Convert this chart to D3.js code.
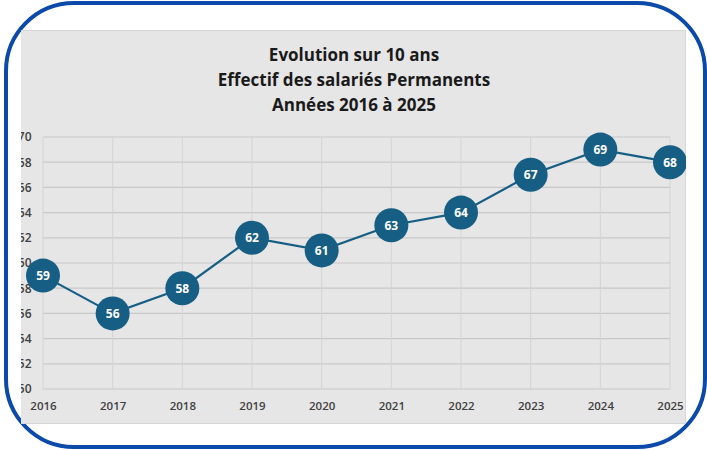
<!DOCTYPE html>
<html>
<head>
<meta charset="utf-8">
<script src="https://cdn.jsdelivr.net/npm/d3@7"></script>
<style>
  body { margin: 0; background: #fff; }
  svg { display: block; font-family: "Open Sans", Roboto, sans-serif; }
</style>
</head>
<body>
<div id="chart"></div>
<script>
var years = [2016, 2017, 2018, 2019, 2020, 2021, 2022, 2023, 2024, 2025];
var effectifs = [59, 56, 58, 62, 61, 63, 64, 67, 69, 68];
var yTicks = [50, 52, 54, 56, 58, 60, 62, 64, 66, 68, 70];
var titleLines = ["Evolution sur 10 ans", "Effectif des salariés Permanents", "Années 2016 à 2025"];

var W = 707, H = 450;
var panel = {x: 20, y: 30, w: 666, h: 394};
var plot = {left: 43, right: 670, top: 137, bottom: 389};
var bleu = "#175e84";

var svg = d3.select("#chart").append("svg")
    .attr("width", W)
    .attr("height", H);

// cadre bleu arrondi
svg.append("rect")
    .attr("x", 6).attr("y", 3)
    .attr("width", 699).attr("height", 444)
    .attr("rx", 68).attr("ry", 68)
    .attr("fill", "#fff")
    .attr("stroke", "#0b4aa9")
    .attr("stroke-width", 4);

svg.append("clipPath").attr("id", "clipPanel")
  .append("rect")
    .attr("x", panel.x + 1).attr("y", panel.y)
    .attr("width", panel.w - 1).attr("height", panel.h);

var g = svg.append("g").attr("clip-path", "url(#clipPanel)");

g.append("rect")
    .attr("x", panel.x + 0.5).attr("y", panel.y + 0.5)
    .attr("width", panel.w - 1).attr("height", panel.h - 1)
    .attr("fill", "#e6e6e6")
    .attr("stroke", "#d6d6d6");

var x = d3.scalePoint().domain(years).range([plot.left, plot.right]);
var y = d3.scaleLinear().domain([50, 70]).range([plot.bottom, plot.top]);

// grille
g.selectAll("line.h").data(yTicks).enter().append("line")
    .attr("class", "h")
    .attr("x1", plot.left).attr("x2", plot.right)
    .attr("y1", function(d) { return y(d); })
    .attr("y2", function(d) { return y(d); })
    .attr("stroke", "#c8c8c8").attr("stroke-width", 1.2);

g.selectAll("line.v").data(years).enter().append("line")
    .attr("class", "v")
    .attr("y1", plot.top).attr("y2", plot.bottom)
    .attr("x1", function(d) { return x(d); })
    .attr("x2", function(d) { return x(d); })
    .attr("stroke", "#d4d4d4").attr("stroke-width", 1);

// axes
var yAxis = g.append("g")
    .attr("transform", "translate(" + (plot.left - 11.5) + ",0)")
    .call(d3.axisLeft(y).tickValues(yTicks).tickSize(0).tickPadding(0));
yAxis.select(".domain").remove();
yAxis.selectAll("text")
    .attr("fill", "#404040")
    .attr("font-size", "12px")
    .attr("font-weight", "600")
    .attr("font-family", "'Open Sans', sans-serif");

var xAxis = g.append("g")
    .attr("transform", "translate(0," + (plot.bottom + 13) + ")")
    .call(d3.axisBottom(x).tickSize(0).tickPadding(0));
xAxis.select(".domain").remove();
xAxis.selectAll("text")
    .attr("fill", "#404040")
    .attr("font-size", "11.5px")
    .attr("font-weight", "600")
    .attr("font-family", "'Open Sans', sans-serif");

// titre
g.selectAll("text.titre").data(titleLines).enter().append("text")
    .attr("class", "titre")
    .attr("x", 354)
    .attr("y", function(d, i) { return 61 + i * 25; })
    .attr("text-anchor", "middle")
    .attr("font-size", "17px")
    .attr("font-weight", "bold")
    .attr("fill", "#1a1a1a")
    .text(function(d) { return d; });

// ligne
var data = years.map(function(d, i) { return {annee: d, val: effectifs[i]}; });
var line = d3.line()
    .x(function(d) { return x(d.annee); })
    .y(function(d) { return y(d.val); });

g.append("path")
    .datum(data)
    .attr("d", line)
    .attr("fill", "none")
    .attr("stroke", bleu)
    .attr("stroke-width", 2.2);

var pts = g.selectAll("g.pt").data(data).enter().append("g")
    .attr("class", "pt")
    .attr("transform", function(d) { return "translate(" + x(d.annee) + "," + y(d.val) + ")"; });

pts.append("circle")
    .attr("r", 17)
    .attr("fill", bleu);

pts.append("text")
    .attr("text-anchor", "middle")
    .attr("dy", "0.36em")
    .attr("fill", "#fff")
    .attr("font-size", "12px")
    .attr("font-weight", "bold")
    .text(function(d) { return d.val; });
</script>
</body>
</html>
